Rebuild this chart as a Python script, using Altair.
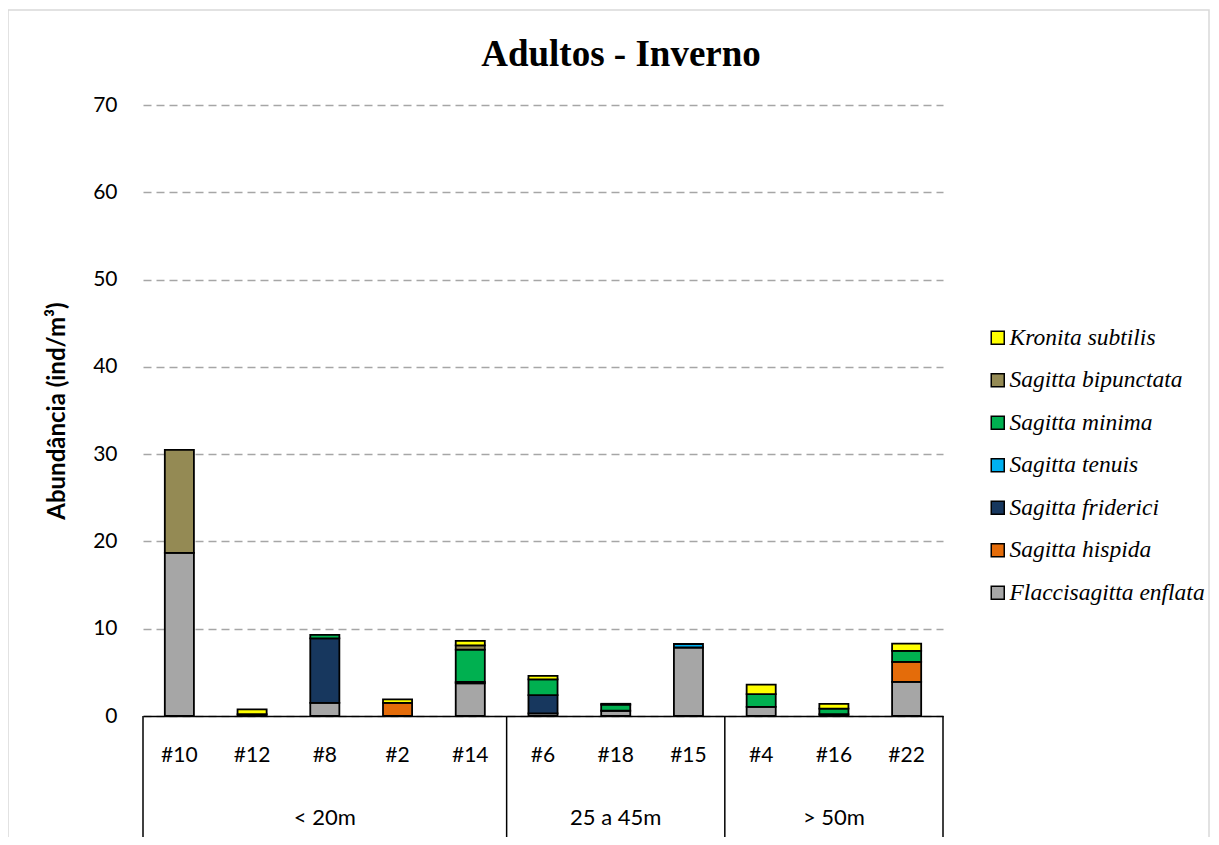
import altair as alt
import pandas as pd

stations = ["#10", "#12", "#8", "#2", "#14", "#6", "#18", "#15", "#4", "#16", "#22"]
group_names = ["< 20m", "25 a 45m", "> 50m"]
group_centers = ["#8", "#18", "#16"]
group_sizes = [5, 3, 3]

species_stack = ["Flaccisagitta enflata", "Sagitta hispida", "Sagitta friderici",
                 "Sagitta tenuis", "Sagitta minima", "Sagitta bipunctata", "Kronita subtilis"]
colors_stack = ["#A6A6A6", "#E46C0A", "#17375E", "#00B0F0", "#00B050", "#948A54", "#FFFF00"]

enflata = [18.7, 0, 1.5, 0, 3.75, 0.3, 0.6, 7.85, 1.05, 0.2, 3.9]
hispida = [0, 0, 0, 1.5, 0, 0, 0, 0, 0, 0, 2.3]
friderici = [0, 0, 7.4, 0, 0.15, 2.1, 0, 0, 0, 0, 0]
tenuis = [0, 0.2, 0, 0, 0, 0, 0, 0.4, 0, 0, 0]
minima = [0, 0, 0.4, 0, 3.7, 1.8, 0.7, 0, 1.45, 0.65, 1.25]
bipunctata = [11.8, 0, 0, 0, 0.5, 0, 0, 0, 0, 0, 0]
kronita = [0, 0.55, 0, 0.4, 0.5, 0.4, 0.1, 0, 1.1, 0.55, 0.85]

series = [enflata, hispida, friderici, tenuis, minima, bipunctata, kronita]
rows = []
for rank, (sp, vals) in enumerate(zip(species_stack, series)):
    for st, v in zip(stations, vals):
        if v > 0:
            rows.append({"station": st, "species": sp, "value": v, "rank": rank})
df = pd.DataFrame(rows)

legend_order = species_stack[::-1]
legend_colors = colors_stack[::-1]

W, H = 800, 611
step = W / len(stations)

bars = alt.Chart(df).mark_bar(stroke="black", strokeWidth=1.8).encode(
    x=alt.X("station:N", sort=stations,
            scale=alt.Scale(domain=stations, paddingInner=0.6, paddingOuter=0.3),
            axis=alt.Axis(title=None, labelAngle=0, ticks=False, domainColor="black",
                          domainWidth=1.5, labelFont="Lato", labelFontSize=21,
                          labelColor="black", labelPadding=28, grid=False, zindex=1)),
    y=alt.Y("value:Q", stack="zero", scale=alt.Scale(domain=[0, 70], nice=False),
            axis=alt.Axis(values=list(range(0, 80, 10)), title="Abundância (ind/m³)",
                          titleFont="Lato", titleFontSize=24, titleFontWeight="bold",
                          titleColor="black", titleX=-86, titleY=H / 2, titleAngle=-90,
                          titleAlign="center", titleBaseline="middle",
                          labelFont="Lato", labelFontSize=21, labelColor="black",
                          labelPadding=26, ticks=False, domain=False,
                          gridColor="#A6A6A6", gridDash=[8, 5], gridWidth=1.5)),
    color=alt.Color("species:N",
                    scale=alt.Scale(domain=legend_order, range=legend_colors),
                    legend=alt.Legend(title=None, orient="none", legendX=843, legendY=221,
                                      symbolType="square", symbolSize=169,
                                      symbolStrokeColor="black", symbolStrokeWidth=1.5,
                                      labelFont="Liberation Serif", labelFontStyle="italic",
                                      labelFontSize=23.5, labelColor="black",
                                      rowPadding=17.5, labelOffset=0, padding=0,
                                      labelLimit=400)),
    order=alt.Order("rank:Q"),
)

gdf = pd.DataFrame({"group": group_names, "center": group_centers})
group_text = alt.Chart(gdf).mark_text(font="Lato", fontSize=22, color="black",
                                      baseline="middle").encode(
    x=alt.X("center:N", sort=stations), y=alt.value(H + 102), text="group:N")

bounds = [0]
acc = 0
for n in group_sizes:
    acc += n
    bounds.append(acc * step)
sdf = pd.DataFrame({"px": bounds})
seps = alt.Chart(sdf).mark_rule(color="black", strokeWidth=1.5).encode(
    x=alt.X("px:Q", scale=None), y=alt.value(H), y2=alt.value(H + 140))

tdf = pd.DataFrame({"t": ["Adultos - Inverno"]})
title = alt.Chart(tdf).mark_text(font="Liberation Serif", fontSize=37, fontWeight="bold",
                                 color="black", baseline="middle", align="center").encode(
    x=alt.value(478), y=alt.value(-50), text="t:N")

frame = alt.Chart(tdf).mark_rect(fillOpacity=0, stroke="#D9D9D9", strokeWidth=1.5).encode(
    x=alt.value(-135), x2=alt.value(1066), y=alt.value(-95), y2=alt.value(H + 300))

chart = alt.layer(frame, bars, seps, group_text, title).properties(
    width=W, height=H,
    padding={"left": 135, "top": 97, "right": 268, "bottom": 121},
    autosize=alt.AutoSizeParams(type="none"),
).configure_view(stroke=None)

chart.save("out.html", embed_options={"renderer": "svg", "actions": False})
